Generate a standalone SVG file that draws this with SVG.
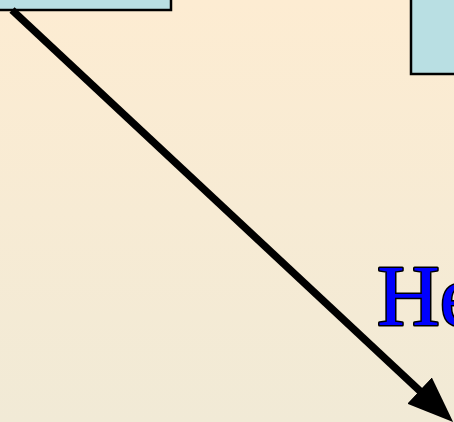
<svg xmlns="http://www.w3.org/2000/svg" width="454" height="422" viewBox="0 0 454 422">
<defs>
<linearGradient id="bg" x1="0" y1="0" x2="0" y2="1">
<stop offset="0" stop-color="#fdecd2"/>
<stop offset="1" stop-color="#f1ead6"/>
</linearGradient>
<marker id="ah" viewBox="0 -18 46 36" markerUnits="userSpaceOnUse" markerWidth="46" markerHeight="36" refX="2" refY="0" orient="auto">
<path d="M0,-18 L46,0 L0,18 Z" fill="#000"/>
</marker>
<style>
.box{fill:#b9dfe3;stroke:#000;stroke-width:2.5}
.conn{stroke:#000;stroke-width:7.5;fill:none}
.lbl{font-family:"Liberation Serif","Times New Roman",serif;font-size:87px;fill:#0000ff;stroke:#000;stroke-width:3;paint-order:stroke;stroke-linejoin:round}
</style>
</defs>
<rect width="454" height="422" fill="url(#bg)"/>
<g id="node-topleft"><rect class="box" x="-10" y="-10" width="181" height="20"/></g>
<g id="node-topright"><rect class="box" x="411" y="-10" width="60" height="84"/></g>
<g id="connectors"><path class="conn" d="M12,10 L421,392" marker-end="url(#ah)"/></g>
<g id="label"><text class="lbl" x="377" y="325">He</text></g>
</svg>
